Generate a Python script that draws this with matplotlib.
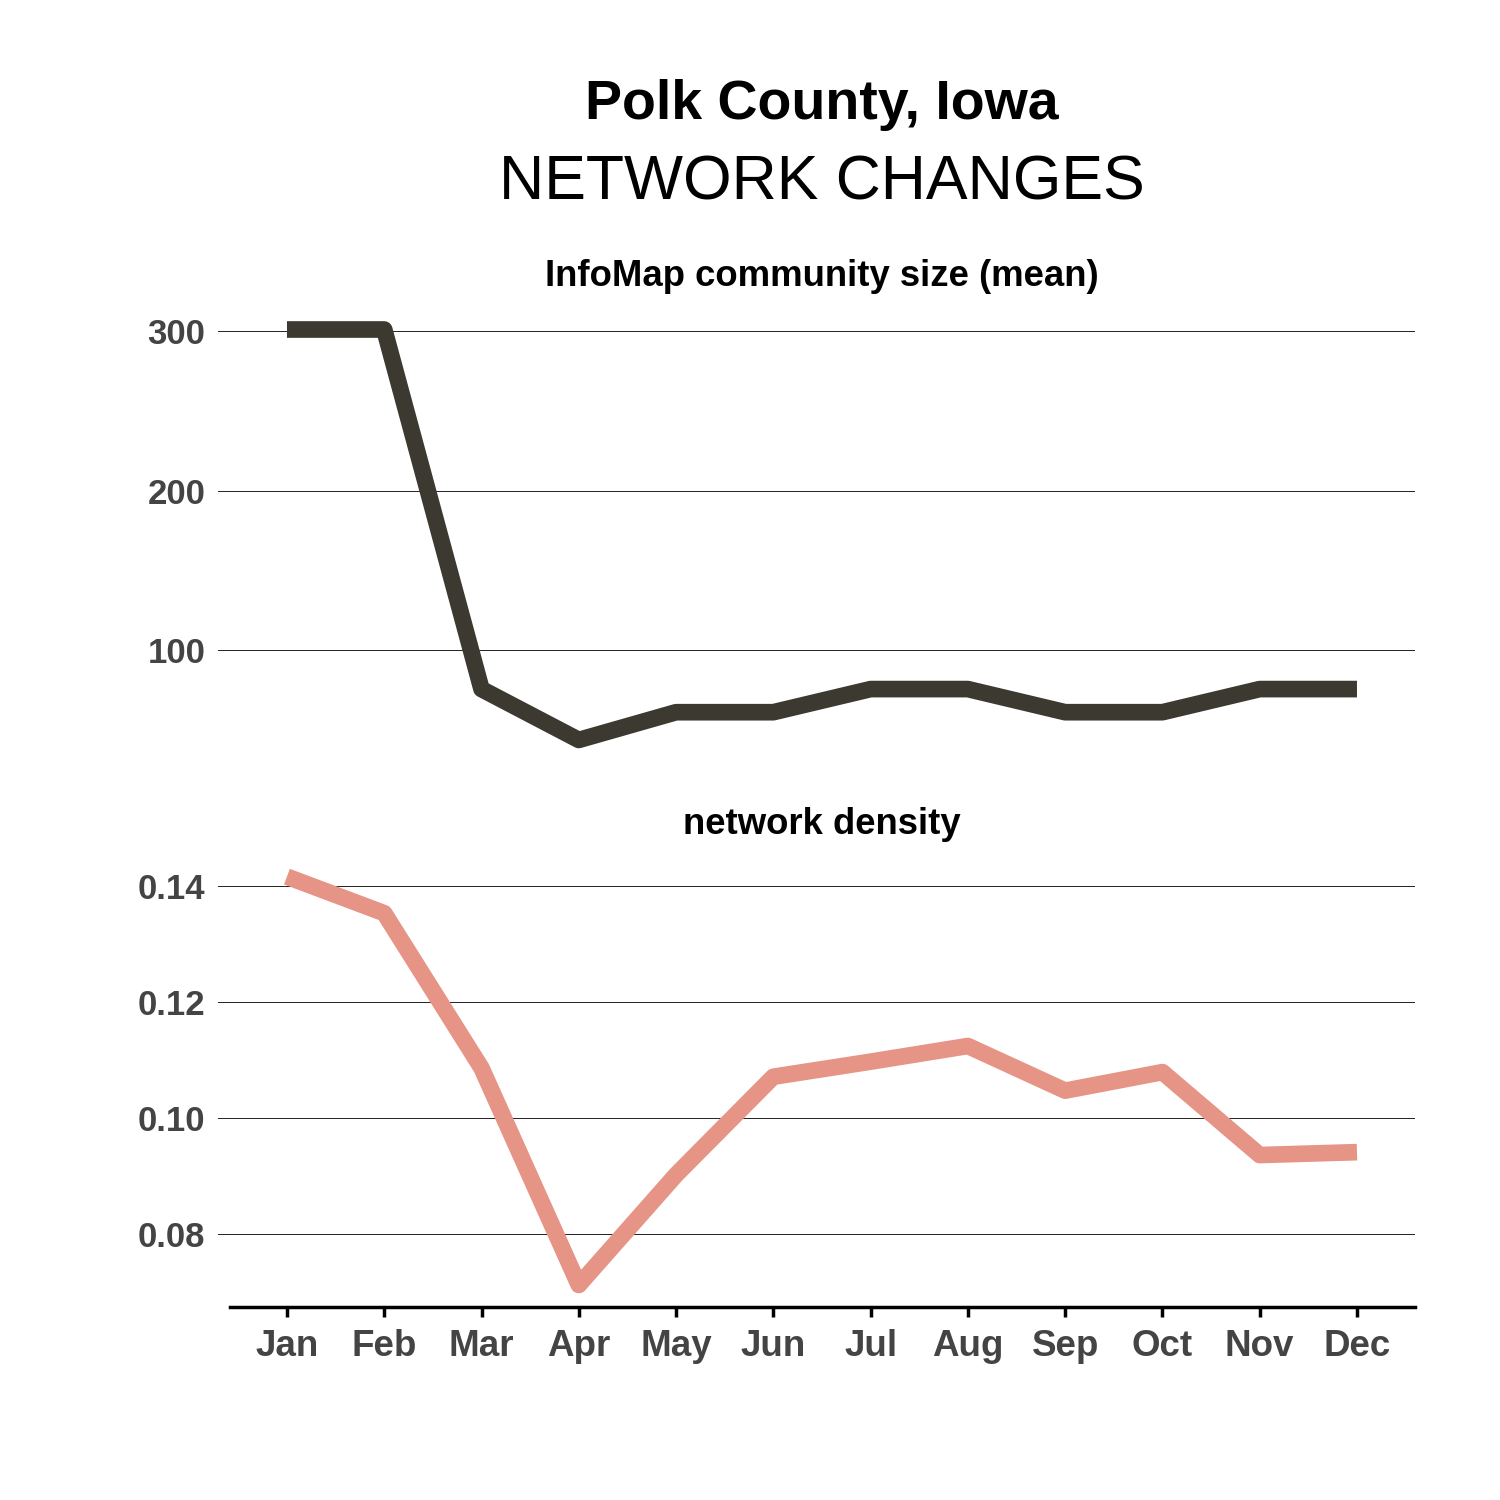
import matplotlib.pyplot as plt

plt.rcParams['font.family'] = ['Liberation Sans', 'DejaVu Sans']

months = ["Jan", "Feb", "Mar", "Apr", "May", "Jun",
          "Jul", "Aug", "Sep", "Oct", "Nov", "Dec"]
community_size = [301, 301, 75.5, 43.6, 61, 61, 75.5, 75.5, 61, 61, 75.5, 75.5]
density = [0.1416, 0.1353, 0.1086, 0.0712, 0.0902, 0.1071,
           0.1097, 0.1124, 0.1047, 0.1079, 0.0936, 0.0941]
size_ticks = [100, 200, 300]
density_ticks = [0.08, 0.10, 0.12, 0.14]

x = list(range(len(months)))
tick_color = '#444444'

fig = plt.figure(figsize=(15, 15), dpi=100)
ax1 = fig.add_axes([0.1453, 0.4933, 0.798, 0.3033])
ax2 = fig.add_axes([0.1453, 0.1287, 0.798, 0.3047])

ax1.plot(x, community_size, color='#3b3930', lw=12,
         solid_joinstyle='round', solid_capstyle='butt')
ax2.plot(x, density, color='#e59486', lw=12,
         solid_joinstyle='round', solid_capstyle='butt')

for ax in (ax1, ax2):
    ax.set_xlim(-0.7094, 11.596)
    for s in ('top', 'right', 'left'):
        ax.spines[s].set_visible(False)
    ax.tick_params(axis='y', length=0, pad=9, labelsize=25, labelcolor=tick_color)
    ax.grid(axis='y', color='#222222', lw=0.7)
    ax.set_axisbelow(True)

ax1.set_ylim(31.0, 316.3)
ax1.set_yticks(size_ticks)
ax1.set_yticklabels([str(t) for t in size_ticks], fontweight='bold')
ax1.spines['bottom'].set_visible(False)
ax1.set_xticks([])

ax2.set_ylim(0.06741, 0.14621)
ax2.set_yticks(density_ticks)
ax2.set_yticklabels([f"{t:.2f}" for t in density_ticks], fontweight='bold')
ax2.set_xticks(x)
ax2.set_xticklabels(months, fontweight='bold')
ax2.tick_params(axis='x', length=7, width=2.5, pad=9, labelsize=26.5,
                labelcolor=tick_color, color='black')
ax2.spines['bottom'].set_linewidth(2.5)
ax2.spines['bottom'].set_bounds(-0.586, 11.596)

fig.text(0.548, 1 - 105 / 1500, "Polk County, Iowa", ha='center', va='center',
         fontsize=40, fontweight='bold')
fig.text(0.548, 1 - 183 / 1500, "NETWORK CHANGES", ha='center', va='center',
         fontsize=45)
fig.text(0.548, 1 - 276 / 1500, "InfoMap community size (mean)", ha='center',
         va='center', fontsize=26.3, fontweight='bold')
fig.text(0.548, 1 - 824 / 1500, "network density", ha='center',
         va='center', fontsize=26.3, fontweight='bold')

fig.savefig("out.png", dpi=100)
